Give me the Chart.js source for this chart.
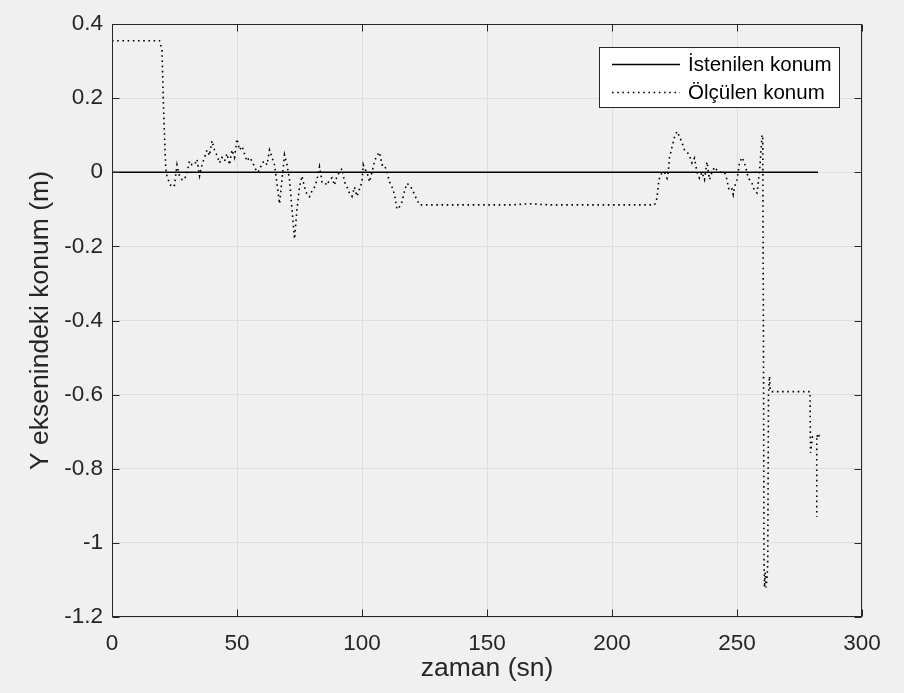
<!DOCTYPE html>
<html lang="tr">
<head>
<meta charset="utf-8">
<title>Y ekseni konum</title>
<script src="https://cdn.jsdelivr.net/npm/chart.js@4.4.1/dist/chart.umd.min.js"></script>
<style>
  html, body { margin: 0; padding: 0; background: #f0f0f0; }
  #wrap { width: 904px; height: 693px; }
  canvas { display: block; }
</style>
</head>
<body>
<div id="wrap"><canvas id="c" width="904" height="693"></canvas></div>
<script>
// Desired (reference) position: constant zero over the run
const desiredTime = [0, 282.4];
const desiredPos = [0, 0];

// Measured position along the Y axis (m) against time (s)
const measuredTime = [
  0, 5, 10, 15, 19, 20, 20.5, 21, 21.5, 22, 23, 24, 25, 26, 27, 28, 29, 30,
  31, 32, 33, 34, 35, 36, 37, 38, 39, 40, 41, 42, 43, 44, 45, 46, 47, 48, 49,
  50, 51, 52, 53, 54, 55, 56, 57, 58, 59, 60, 61, 62, 63, 64, 65, 66, 67, 68,
  69, 70, 71, 72, 73, 74, 75, 76, 77, 78, 79, 80, 81, 82, 83, 84, 85, 86, 87,
  88, 89, 90, 91, 92, 93, 94, 95, 96, 97, 98, 99, 100, 100.5, 101, 102, 103,
  104, 105, 106, 107, 108, 109, 110, 111, 112, 113, 114, 115, 116, 117, 118,
  119, 120, 121, 122, 123, 140, 160, 167, 175, 200, 217, 218, 218.5, 219, 220,
  221, 222, 222.5, 223, 224, 225, 226, 227, 228, 229, 230, 231, 232, 233, 234,
  235, 236, 237, 238, 239, 240, 241, 242, 243, 244, 245, 246, 246.5, 247, 248,
  248.5, 249, 250, 251, 252, 253, 254, 254.5, 255, 256, 256.5, 257, 258, 259,
  260, 260.3, 260.6, 260.8, 261, 261.3, 261.6, 262, 262.3, 262.6, 263, 263.3,
  264, 270, 279.2, 279.4, 280.2, 283.5, 281.9, 281.9
];
const measuredPos = [
  0.355, 0.355, 0.355, 0.355, 0.355, 0.33, 0.2, 0.1, 0.01, -0.01, -0.03, -0.04,
  -0.035, 0.02, -0.01, -0.02, -0.02, 0.0,
  0.03, 0.02, 0.02, 0.035, -0.01, 0.02, 0.04, 0.06, 0.045, 0.085, 0.06, 0.045,
  0.025, 0.04, 0.03, 0.05, 0.02, 0.06, 0.04,
  0.09, 0.06, 0.07, 0.05, 0.03, 0.04, 0.03, 0.015, 0.0, 0.005, 0.025, 0.03,
  0.02, 0.06, 0.04, 0.02, -0.03, -0.085, -0.02,
  0.047, 0.02, -0.02, -0.1, -0.18, -0.1, -0.04, -0.01, -0.04, -0.06, -0.066,
  -0.05, -0.04, -0.02, 0.015, -0.026, -0.026, -0.035, -0.02,
  -0.015, -0.035, -0.01, 0.0, 0.01, -0.026, -0.04, -0.056, -0.065, -0.04,
  -0.065, -0.045, -0.026, 0.02, 0.01, 0.0, -0.026,
  0.0, 0.03, 0.045, 0.054, 0.02, 0.02, 0.0, -0.026, -0.04, -0.06, -0.1,
  -0.093, -0.08, -0.05, -0.03,
  -0.035, -0.045, -0.06, -0.075, -0.088, -0.088, -0.088, -0.085, -0.088,
  -0.088, -0.088, -0.07, -0.034, -0.016, 0.0,
  0.0, -0.016, 0.0, 0.04, 0.068, 0.095, 0.11, 0.096, 0.08, 0.06, 0.055, 0.045,
  0.025, 0.038, 0.0,
  -0.016, 0.0, -0.02, 0.028, -0.02, 0.0, 0.014, 0.005, 0.0, 0.0, 0.0, -0.02,
  -0.04, -0.05, -0.045,
  -0.06, -0.04, -0.02, 0.025, 0.04, 0.025, 0.0, -0.016, -0.02, -0.03, -0.04,
  -0.05, -0.056, 0.0,
  0.1, 0.1, -0.5, -1.05, -1.12, -1.08, -1.12, -1.1, -1.05, -0.6, -0.55, -0.59,
  -0.592, -0.592, -0.592, -0.757, -0.714, -0.71, -0.712, -0.93
];

// Axis ticks
const xTicks = [0, 50, 100, 150, 200, 250, 300];
const yTicks = [-1.2, -1, -0.8, -0.6, -0.4, -0.2, 0, 0.2, 0.4];

const FONT = '"Liberation Sans", Arial, Helvetica, sans-serif';
const INK = '#262626';

// Axes box with inward tick marks on all four sides
const axesBox = {
  id: 'axesBox',
  afterDatasetsDraw(chart) {
    const { ctx, chartArea: a, scales: { x, y } } = chart;
    const L = Math.round(a.left) + 0.5, R = Math.round(a.right) - 0.5;
    const T = Math.round(a.top) + 0.5, B = Math.round(a.bottom) - 0.5;
    const len = 7;
    ctx.save();
    ctx.strokeStyle = INK;
    ctx.lineWidth = 1;
    ctx.beginPath();
    xTicks.forEach(v => {
      const px = Math.round(x.getPixelForValue(v)) + 0.5;
      ctx.moveTo(px, B); ctx.lineTo(px, B - len);
      ctx.moveTo(px, T); ctx.lineTo(px, T + len);
    });
    yTicks.forEach(v => {
      const py = Math.round(y.getPixelForValue(v)) + 0.5;
      ctx.moveTo(L, py); ctx.lineTo(L + len, py);
      ctx.moveTo(R, py); ctx.lineTo(R - len, py);
    });
    ctx.stroke();
    ctx.strokeRect(L, T, R - L, B - T);
    ctx.restore();
  }
};

// Boxed legend in the upper right of the plot area
const boxLegend = {
  id: 'boxLegend',
  afterDraw(chart) {
    const { ctx, chartArea: a } = chart;
    const sets = chart.data.datasets;
    ctx.save();
    ctx.font = '20.5px ' + FONT;
    const textW = Math.max(...sets.map(d => ctx.measureText(d.label).width));
    const padL = 13, lineLen = 68, gap = 8, padR = 8, rowH = 28, padT = 17;
    const w = padL + lineLen + gap + textW + padR;
    const h = padT + rowH * (sets.length - 1) + 16;
    const right = Math.round(a.right) - 22;
    const left = right - Math.round(w);
    const top = Math.round(a.top) + 23;
    ctx.fillStyle = '#ffffff';
    ctx.fillRect(left, top, right - left, h);
    ctx.strokeStyle = INK;
    ctx.lineWidth = 1;
    ctx.strokeRect(left + 0.5, top + 0.5, right - left - 1, h - 1);
    sets.forEach((d, i) => {
      const cy = top + padT + i * rowH + 0.5;
      ctx.beginPath();
      ctx.strokeStyle = d.borderColor;
      ctx.lineWidth = d.borderWidth;
      ctx.setLineDash(d.borderDash || []);
      ctx.moveTo(left + padL, cy);
      ctx.lineTo(left + padL + lineLen, cy);
      ctx.stroke();
      ctx.setLineDash([]);
      ctx.fillStyle = '#000000';
      ctx.textBaseline = 'middle';
      ctx.textAlign = 'left';
      ctx.fillText(d.label, left + padL + lineLen + gap, cy + 1);
    });
    ctx.restore();
  }
};

const toPoints = (xs, ys) => xs.map((t, i) => ({ x: t, y: ys[i] }));

new Chart(document.getElementById('c'), {
  type: 'line',
  data: {
    datasets: [
      {
        label: 'İstenilen konum',
        data: toPoints(desiredTime, desiredPos),
        borderColor: '#000000',
        borderWidth: 1.6,
        pointRadius: 0,
        tension: 0
      },
      {
        label: 'Ölçülen konum',
        data: toPoints(measuredTime, measuredPos),
        borderColor: '#000000',
        borderWidth: 1.6,
        borderDash: [1.6, 3.6],
        pointRadius: 0,
        tension: 0
      }
    ]
  },
  options: {
    responsive: false,
    animation: false,
    events: [],
    layout: { padding: { top: 24, right: 42, left: 0, bottom: 0 } },
    plugins: {
      legend: { display: false },
      tooltip: { enabled: false }
    },
    scales: {
      x: {
        type: 'linear',
        min: 0, max: 300,
        afterBuildTicks(s) { s.ticks = xTicks.map(v => ({ value: v })); },
        afterFit(s) { s.height = 76; },
        grid: { color: '#dedede', lineWidth: 1, drawTicks: false },
        border: { display: false },
        ticks: {
          color: INK,
          font: { family: FONT, size: 22.5 },
          padding: 13,
          maxRotation: 0,
          callback: v => String(v)
        },
        title: {
          display: true,
          text: 'zaman (sn)',
          color: INK,
          font: { family: FONT, size: 26.5 },
          padding: { top: 0, bottom: 8 }
        }
      },
      y: {
        type: 'linear',
        min: -1.2, max: 0.4,
        afterBuildTicks(s) { s.ticks = yTicks.map(v => ({ value: v })); },
        afterFit(s) { s.width = 112; },
        grid: { color: '#dedede', lineWidth: 1, drawTicks: false },
        border: { display: false },
        ticks: {
          color: INK,
          font: { family: FONT, size: 22.5 },
          padding: 9,
          callback: v => String(Math.round(v * 10) / 10)
        },
        title: {
          display: true,
          text: 'Y eksenindeki konum (m)',
          color: INK,
          font: { family: FONT, size: 26.5 },
          padding: { top: 25, bottom: 0 }
        }
      }
    }
  },
  plugins: [axesBox, boxLegend]
});
</script>
</body>
</html>
